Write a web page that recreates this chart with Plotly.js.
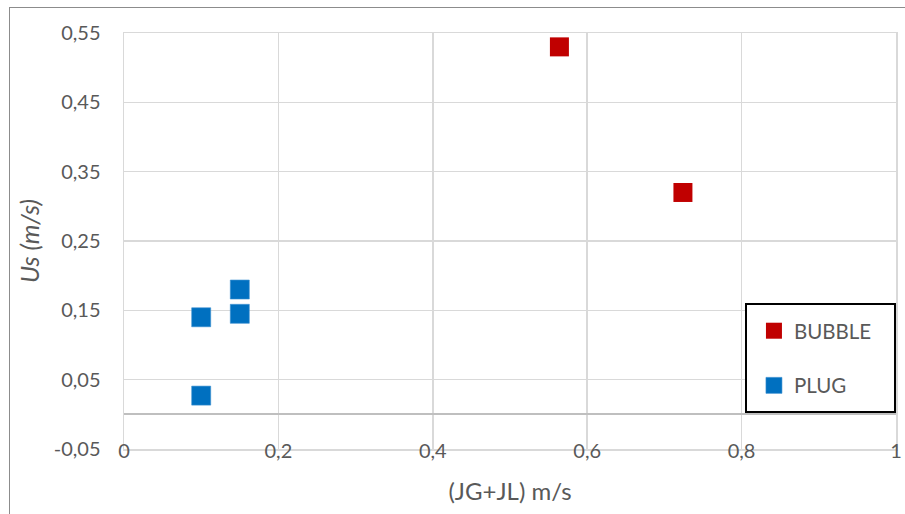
<!DOCTYPE html>
<html>
<head>
<meta charset="utf-8">
<script src="https://cdn.plot.ly/plotly-3.0.1.min.js"></script>
<style>
  html, body { margin: 0; padding: 0; background: #fff; }
  #wrap { position: relative; width: 905px; height: 514px; overflow: hidden; }
  #chart { width: 905px; height: 514px; }
  #frame { position: absolute; left: 9px; top: 7px; width: 2000px; height: 2000px;
           border-left: 1.5px solid #8c8c8c; border-top: 1.5px solid #8c8c8c; pointer-events: none; }
</style>
</head>
<body>
<div id="wrap">
  <div id="chart"></div>
  <div id="frame"></div>
</div>
<script>
// Series data
const bubbleX = [0.564, 0.724];
const bubbleY = [0.530, 0.320];
const plugX = [0.10, 0.10, 0.15, 0.15];
const plugY = [0.140, 0.027, 0.180, 0.145];

// Tick labels
const xTickVals = [0, 0.2, 0.4, 0.6, 0.8, 1];
const xTickText = ['0', '0,2', '0,4', '0,6', '0,8', '1'];
const yTickVals = [-0.05, 0.05, 0.15, 0.25, 0.35, 0.45, 0.55];
const yTickText = ['-0,05', '0,05', '0,15', '0,25', '0,35', '0,45', '0,55'];

const FONT = 'Lato, "Open Sans", sans-serif';
const TXT = '#595959';

const traces = [
  { x: bubbleX, y: bubbleY, name: 'BUBBLE', type: 'scatter', mode: 'markers', legendgroup: 'a',
    marker: { symbol: 'square', size: 19, color: '#C00000' } },
  { x: plugX, y: plugY, name: 'PLUG', type: 'scatter', mode: 'markers', legendgroup: 'b',
    marker: { symbol: 'square', size: 19, color: '#0070C0', line: { width: 0.6, color: '#3a8fd0' } } }
];

const layout = {
  width: 905, height: 514,
  margin: { l: 124, r: 9, t: 33, b: 65 },
  paper_bgcolor: '#ffffff', plot_bgcolor: '#ffffff',
  font: { family: FONT, color: TXT, size: 20 },
  showlegend: true,
  legend: {
    x: 0.816, y: 0.332, xanchor: 'left', yanchor: 'top',
    borderwidth: 0, bgcolor: 'rgba(0,0,0,0)',
    font: { family: FONT, size: 20.5, color: TXT },
    traceorder: 'grouped', tracegroupgap: 25,
    itemwidth: 30
  },
  shapes: [{
    type: 'rect', xref: 'paper', yref: 'paper',
    x0: 0.8057, x1: 0.9987, y0: 0.0889, y1: 0.3486,
    line: { color: '#000000', width: 2 }, fillcolor: '#ffffff', layer: 'above'
  }],
  xaxis: {
    range: [0, 1], tickmode: 'array', tickvals: xTickVals, ticktext: xTickText,
    showgrid: true, gridcolor: '#d9d9d9', gridwidth: 1.5,
    zeroline: false, showline: true, linecolor: '#d9d9d9', linewidth: 1.5, mirror: true,
    ticks: '', ticklabelstandoff: -17,
    tickfont: { family: FONT, size: 20, color: TXT },
    title: { text: '(JG+JL) m/s', font: { family: FONT, size: 24, color: TXT }, standoff: 22 },
    fixedrange: true
  },
  yaxis: {
    range: [-0.05, 0.55], tickmode: 'array', tickvals: yTickVals, ticktext: yTickText,
    showgrid: true, gridcolor: '#d9d9d9', gridwidth: 1.5,
    zeroline: true, zerolinecolor: '#bfbfbf', zerolinewidth: 2,
    showline: true, linecolor: '#d9d9d9', linewidth: 1.5, mirror: true,
    ticks: '', ticklabelstandoff: 18,
    tickfont: { family: FONT, size: 20, color: TXT },
    title: { text: '<i>Us (m/s)</i>', font: { family: FONT, size: 25, color: TXT }, standoff: 7 },
    fixedrange: true
  }
};

Plotly.newPlot('chart', traces, layout, { displayModeBar: false, staticPlot: true });
</script>
</body>
</html>
